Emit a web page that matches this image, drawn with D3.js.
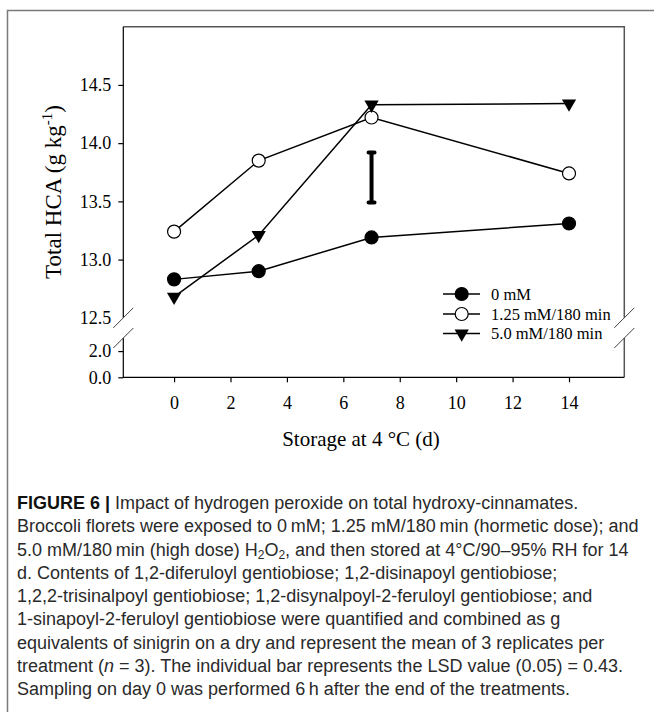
<!DOCTYPE html>
<html>
<head>
<meta charset="utf-8">
<script src="https://cdn.jsdelivr.net/npm/d3@7"></script>
<style>
  html, body { margin: 0; padding: 0; background: #fff; }
  svg { display: block; }
</style>
</head>
<body>
<svg id="chart" width="654" height="712"></svg>
<script>
// ---------------- data ----------------
const days = [0, 3, 7, 14];
const seriesNames = ["0 mM", "1.25 mM/180 min", "5.0 mM/180 min"];
const control = [12.83, 12.90, 13.19, 13.31];      // 0 mM
const hormetic = [13.24, 13.85, 14.22, 13.74];     // 1.25 mM/180 min
const highDose = [12.68, 13.21, 14.33, 14.34];     // 5.0 mM/180 min
const lsdDay = 7;
const lsdCenter = 13.705;
const lsdValue = 0.43;
const xTicks = [0, 2, 4, 6, 8, 10, 12, 14];
const yUpperTicks = [12.5, 13.0, 13.5, 14.0, 14.5];
const yLowerTicks = [0.0, 2.0];
const xTitle = "Storage at 4 °C (d)";
const captionLines = [
  [{b: "FIGURE 6 | "}, {t: "Impact of hydrogen peroxide on total hydroxy-cinnamates."}],
  [{t: "Broccoli florets were exposed to 0\u2009mM; 1.25 mM/180\u2009min (hormetic dose); and"}],
  [{t: "5.0 mM/180\u2009min (high dose) H"}, {sub: "2"}, {t: "O"}, {sub: "2"}, {t: ", and then stored at 4°C/90–95% RH for 14"}],
  [{t: "d. Contents of 1,2-diferuloyl gentiobiose; 1,2-disinapoyl gentiobiose;"}],
  [{t: "1,2,2-trisinalpoyl gentiobiose; 1,2-disynalpoyl-2-feruloyl gentiobiose; and"}],
  [{t: "1-sinapoyl-2-feruloyl gentiobiose were quantified and combined as g"}],
  [{t: "equivalents of sinigrin on a dry and represent the mean of 3 replicates per"}],
  [{t: "treatment ("}, {i: "n"}, {t: " = 3). The individual bar represents the LSD value (0.05) = 0.43."}],
  [{t: "Sampling on day 0 was performed 6\u2009h after the end of the treatments."}]
];

// ---------------- layout ----------------
const plot = {left: 123.3, right: 624.3, top: 26.7, bottom: 377.3};
const upperBottom = 317.8;   // y of 12.5 (break)
const lowerTop = 338.0;      // top of lower segment
const serif = "'Liberation Serif', 'Times New Roman', serif";

const svg = d3.select("#chart");

// outer frame
svg.append("path")
  .attr("d", "M7.5,712 V10.5 H654")
  .attr("fill", "none").attr("stroke", "#7a7a7a").attr("stroke-width", 1.5);

const x = d3.scaleLinear().domain([-1.8, 15.96]).range([plot.left, plot.right]);
const yUp = d3.scaleLinear().domain([12.5, 15.0]).range([upperBottom, plot.top]);
const yLow = d3.scaleLinear().domain([0, 3.0]).range([plot.bottom, lowerTop]);

// top & right border (grey)
svg.append("path")
  .attr("d", `M${plot.left},${plot.top} H${plot.right} V${upperBottom}`)
  .attr("fill", "none").attr("stroke", "#555").attr("stroke-width", 1.5);
svg.append("path")
  .attr("d", `M${plot.right},${lowerTop} V${plot.bottom}`)
  .attr("fill", "none").attr("stroke", "#555").attr("stroke-width", 1.5);

// left axis lines
svg.append("path")
  .attr("d", `M${plot.left},${plot.top} V${upperBottom} M${plot.left},${lowerTop} V${plot.bottom} H${plot.right}`)
  .attr("fill", "none").attr("stroke", "#000").attr("stroke-width", 1.2);

// y axis upper / lower segments
const gUp = svg.append("g").attr("transform", `translate(${plot.left},0)`)
  .call(d3.axisLeft(yUp).tickValues(yUpperTicks).tickSize(5).tickPadding(7).tickFormat(d3.format(".1f")));
const gLow = svg.append("g").attr("transform", `translate(${plot.left},0)`)
  .call(d3.axisLeft(yLow).tickValues(yLowerTicks).tickSize(5).tickPadding(7).tickFormat(d3.format(".1f")));
[gUp, gLow].forEach(g => {
  g.select(".domain").remove();
  g.selectAll(".tick line").attr("stroke", "#000").attr("stroke-width", 1.2);
  g.selectAll(".tick text").attr("font-family", serif).attr("font-size", 18).attr("fill", "#000");
});
gUp.selectAll(".tick").filter(d => d === 12.5).select("line").remove();

// x axis
const gX = svg.append("g").attr("transform", `translate(0,${plot.bottom})`)
  .call(d3.axisBottom(x).tickValues(xTicks).tickSize(5).tickPadding(14));
gX.select(".domain").remove();
gX.selectAll(".tick line").attr("stroke", "#000").attr("stroke-width", 1.2);
gX.selectAll(".tick text").attr("font-family", serif).attr("font-size", 18).attr("fill", "#000");

// break marks
[plot.left, plot.right].forEach(bx => {
  [upperBottom, lowerTop].forEach(by => {
    svg.append("line")
      .attr("x1", bx - 10).attr("y1", by + 10)
      .attr("x2", bx + 10).attr("y2", by - 10)
      .attr("stroke", "#444").attr("stroke-width", 1);
  });
});

// axis titles
svg.append("text")
  .attr("x", 361).attr("y", 446)
  .attr("text-anchor", "middle")
  .attr("font-family", serif).attr("font-size", 21).attr("fill", "#000")
  .text(xTitle);

const yt = svg.append("text")
  .attr("transform", "translate(61,192) rotate(-90)")
  .attr("text-anchor", "middle")
  .attr("font-family", serif).attr("font-size", 23).attr("fill", "#000");
yt.append("tspan").text("Total HCA (g kg");
yt.append("tspan").attr("dy", -9).attr("font-size", 15).text("-1");
yt.append("tspan").attr("dy", 9).text(")");

// series
const series = [
  {name: seriesNames[0], values: control, marker: "filled"},
  {name: seriesNames[1], values: hormetic, marker: "open"},
  {name: seriesNames[2], values: highDose, marker: "tri"}
];
const line = d3.line().x(d => x(d[0])).y(d => yUp(d[1]));
const triPath = d3.symbol().type(d3.symbolTriangle).size(88)();

function drawMarker(g, type, cx, cy) {
  if (type === "tri") {
    g.append("path").attr("d", triPath)
      .attr("transform", `translate(${cx},${cy}) rotate(180)`)
      .attr("fill", "#000");
  } else {
    g.append("circle").attr("cx", cx).attr("cy", cy).attr("r", 6.5)
      .attr("fill", type === "open" ? "#fff" : "#000")
      .attr("stroke", "#000").attr("stroke-width", 1.2);
  }
}

series.forEach(s => {
  const pts = days.map((d, i) => [d, s.values[i]]);
  svg.append("path").attr("d", line(pts))
    .attr("fill", "none").attr("stroke", "#000").attr("stroke-width", 1.5);
});
series.forEach(s => {
  const g = svg.append("g");
  days.forEach((d, i) => drawMarker(g, s.marker, x(d), yUp(s.values[i])));
});

// LSD bar
const lx = x(lsdDay);
const ly1 = yUp(lsdCenter + lsdValue / 2), ly2 = yUp(lsdCenter - lsdValue / 2);
svg.append("path")
  .attr("d", `M${lx},${ly1} V${ly2} M${lx - 3},${ly1} H${lx + 3} M${lx - 3},${ly2} H${lx + 3}`)
  .attr("stroke", "#000").attr("stroke-width", 4).attr("stroke-linecap", "round").attr("fill", "none");

// legend
const legY = [294, 314, 333.5];
series.forEach((s, i) => {
  const g = svg.append("g");
  g.append("line").attr("x1", 443).attr("x2", 480).attr("y1", legY[i]).attr("y2", legY[i])
    .attr("stroke", "#000").attr("stroke-width", 1.5);
  drawMarker(g, s.marker, 461.7, legY[i]);
  g.append("text").attr("x", 491).attr("y", legY[i] + 5.5)
    .attr("font-family", serif).attr("font-size", 16.5).attr("fill", "#000")
    .text(s.name);
});

// caption
const capFont = "'Liberation Sans Narrow', 'Arial Narrow', 'Liberation Sans', sans-serif";
captionLines.forEach((parts, i) => {
  const t = svg.append("text").attr("x", 17).attr("y", 509 + i * 23.25)
    .attr("font-family", capFont).attr("font-size", 18).attr("fill", "#2a2a2a");
  parts.forEach(p => {
    if (p.b) t.append("tspan").attr("font-weight", "bold").attr("fill", "#111").text(p.b);
    if (p.t) t.append("tspan").text(p.t);
    if (p.i) t.append("tspan").attr("font-style", "italic").text(p.i);
    if (p.sub) t.append("tspan").attr("font-size", 12).attr("baseline-shift", "-25%").text(p.sub);
  });
});
</script>
</body>
</html>
